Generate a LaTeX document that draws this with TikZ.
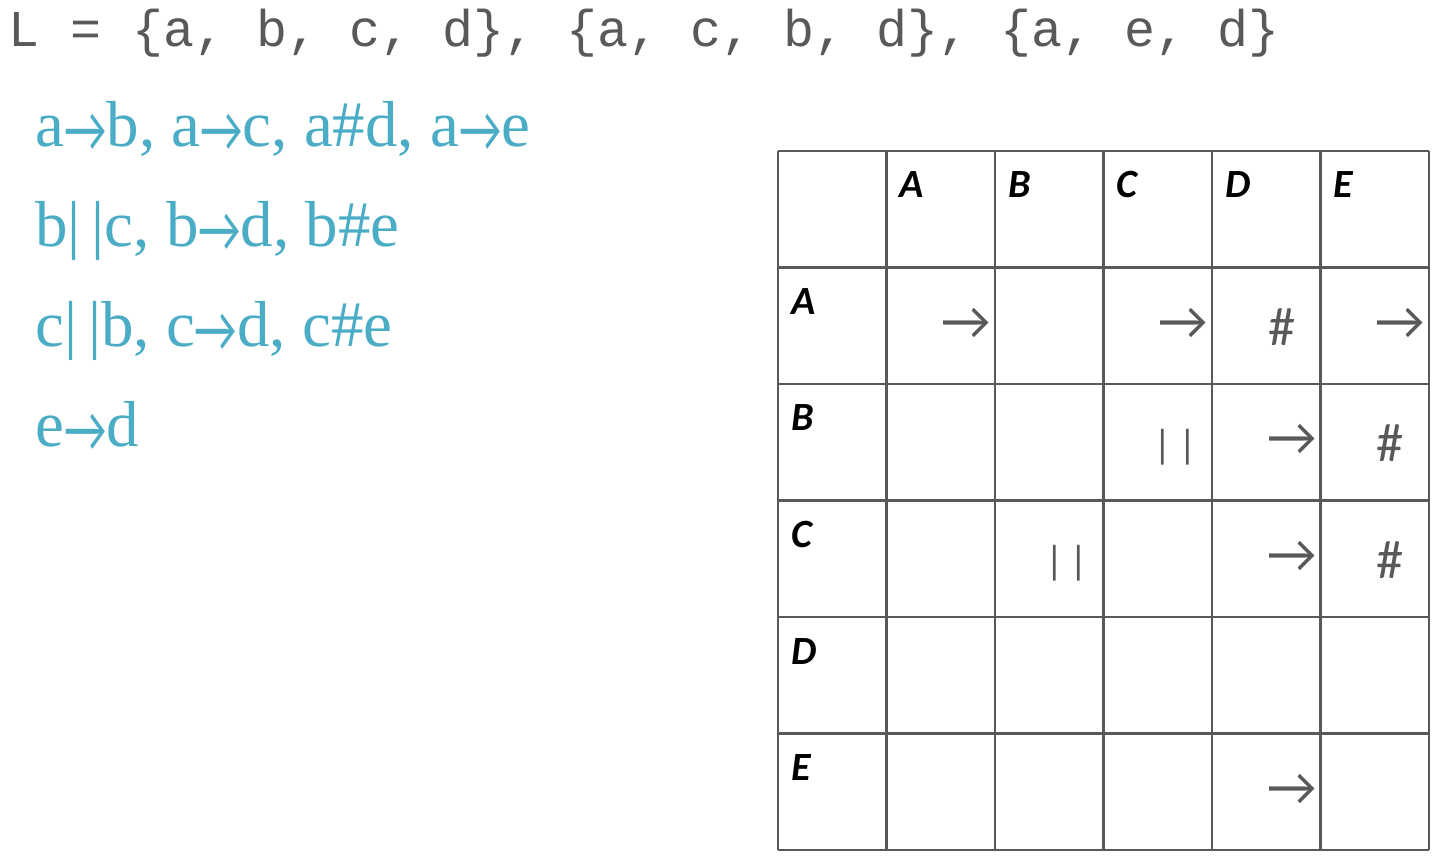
\documentclass[tikz,border=0pt]{standalone}
\usepackage{fontspec}
\setmainfont{Liberation Serif}
\newfontfamily\logfont{Liberation Mono}
\newfontfamily\calfont{Carlito}
\usetikzlibrary{positioning}
\definecolor{tgray}{HTML}{595959}
\definecolor{tblue}{HTML}{4BACC6}
\newcommand{\shortto}{\raisebox{-0.09cm}{\scalebox{0.72}[1]{\calfont →}}}
\newcommand{\parbars}{\raisebox{0.12cm}{\fontsize{23}{25}\selectfont|\kern0.12cm|}}

\begin{document}
\begin{tikzpicture}[x={(0.02cm,0cm)},y={(0cm,-0.02cm)},
    logline/.style={anchor=base west, inner sep=0pt, text=tgray, font=\logfont\fontsize{29.4}{32}\selectfont},
    relline/.style={anchor=base west, inner sep=0pt, text=tblue, font=\fontsize{37}{40}\selectfont},
    hdr/.style={anchor=base west, inner sep=0pt, font=\calfont\bfseries\itshape\fontsize{22.8}{25}\selectfont},
    sym/.style={anchor=base west, inner sep=0pt, text=tgray, font=\calfont\fontsize{31}{34}\selectfont}]
    \useasboundingbox (0,0) rectangle (1437,864);
    
    % event log
    \node[logline] (log) at (8,47) {L = \{a, b, c, d\}, \{a, c, b, d\}, \{a, e, d\}};
    
    % relations
    \node[relline] (relA) at (35,147) {a\shortto b, a\shortto c, a\#d, a\shortto e};
    \node[relline] (relB) at (35,247) {b|\,|c, b\shortto d, b\#e};
    \node[relline] (relC) at (35,347) {c|\,|b, c\shortto d, c\#e};
    \node[relline] (relE) at (35,447) {e\shortto d};
    
    % footprint table
    \foreach \i in {0,...,6}
    {
        \draw[tgray, line width=1.4pt] (778+\i*108.5,151) -- (778+\i*108.5,850);
        \draw[tgray, line width=1.4pt] (778,151+\i*116.5) -- (1429,151+\i*116.5);
    };
    \foreach \n [count=\k] in {A,B,C,D,E}
    {
        \node[hdr] (col\n) at (778+\k*108.5+13,198) {\n};
        \node[hdr] (row\n) at (791,151+\k*116.5+47) {\n};
    };
    \foreach \r/\c/\t/\dx/\dy in
    {1/1/→/55/72,
        1/3/→/55/72,
        1/4/\#/56/78,
        1/5/→/55/72,
        2/3/\parbars/50/80,
        2/4/→/55/72,
        2/5/\#/56/78,
        3/2/\parbars/50/80,
        3/4/→/55/72,
        3/5/\#/56/78,
        5/4/→/55/72
    }
    {
        \node[sym] (cell\r\c) at (778+\c*108.5+\dx,151+\r*116.5+\dy) {\t};
    };
\end{tikzpicture}
\end{document}
